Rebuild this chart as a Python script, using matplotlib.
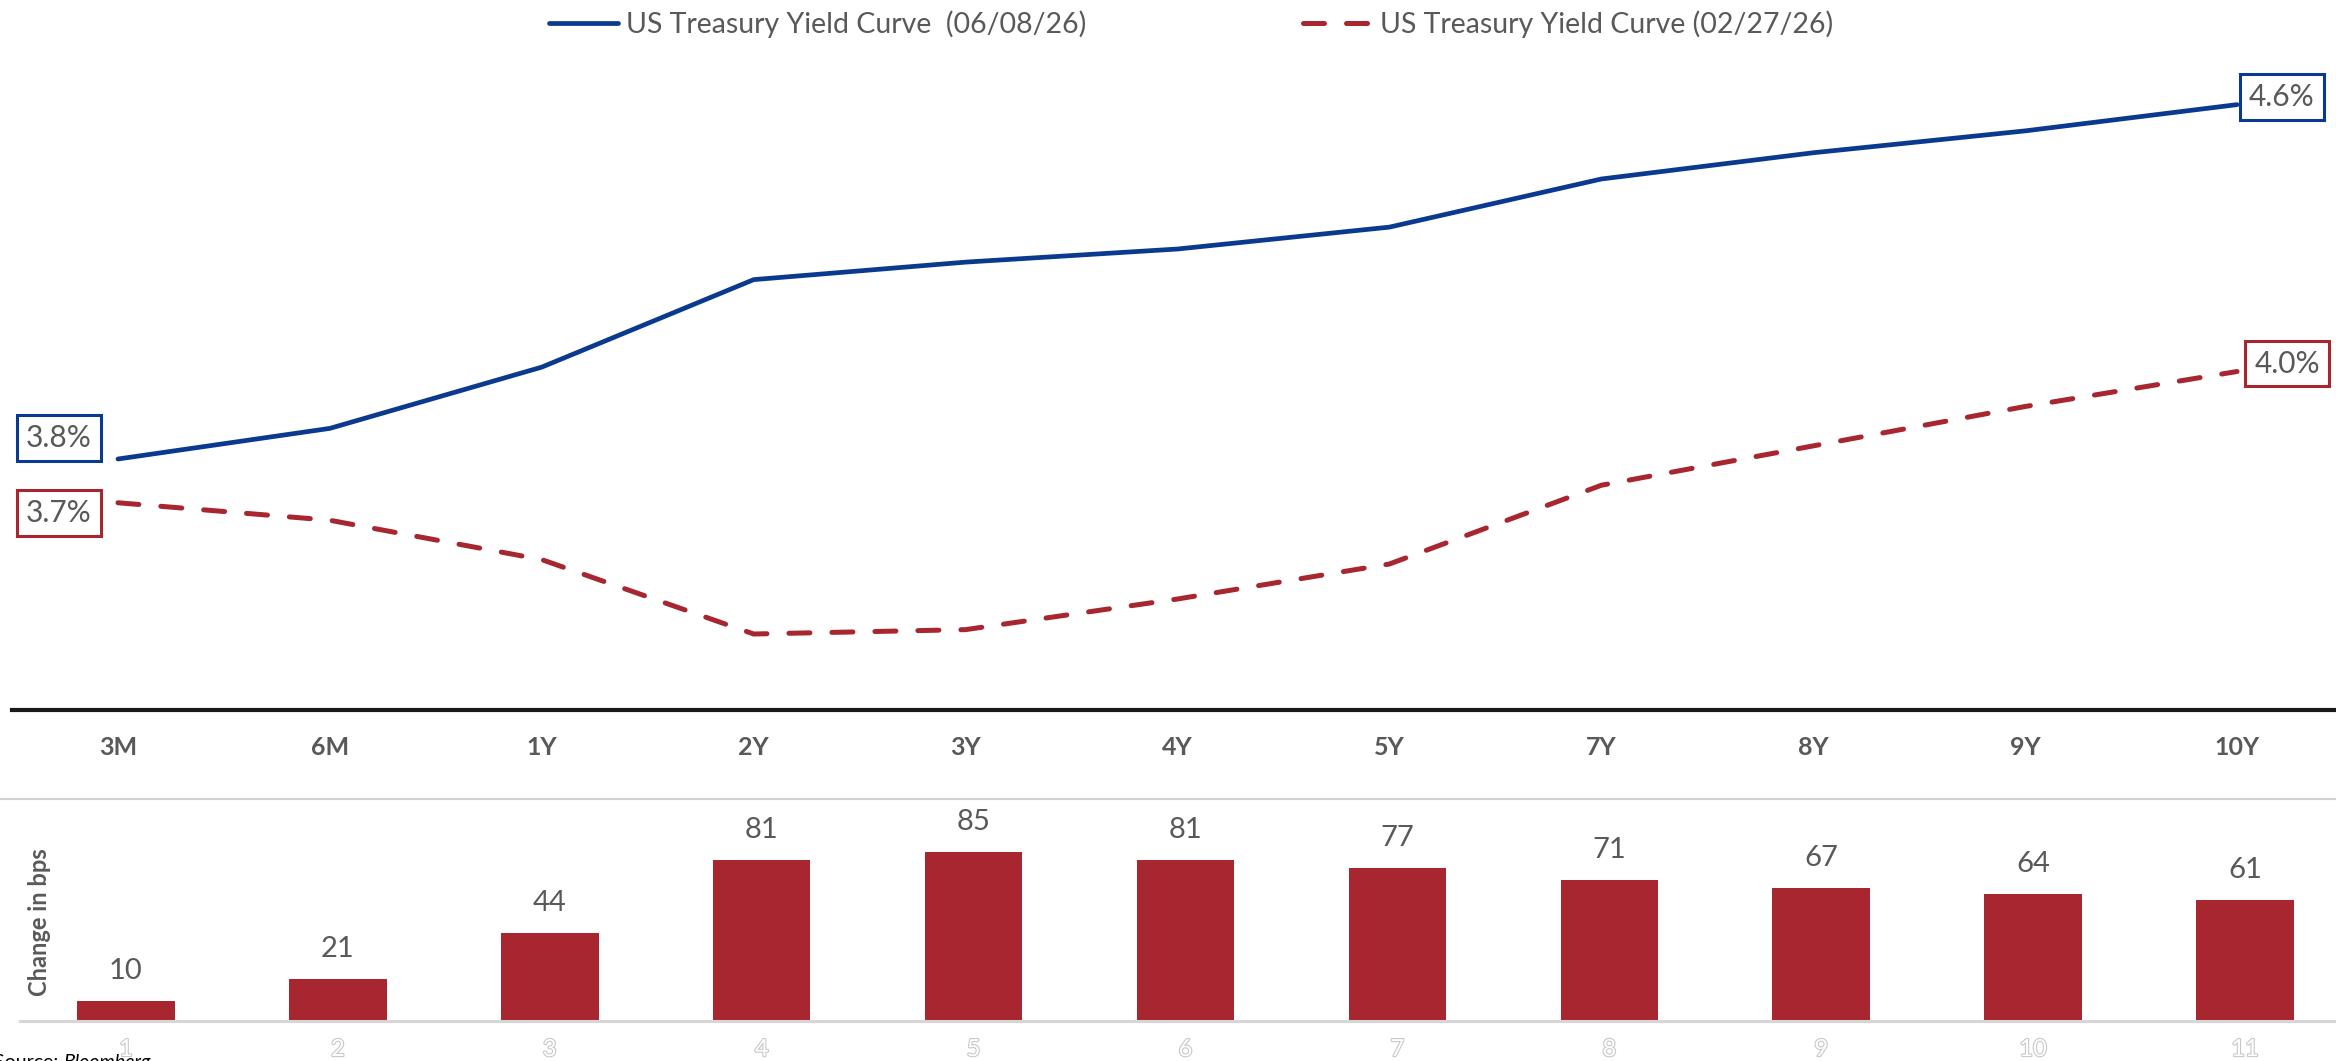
import matplotlib
matplotlib.use("Agg")
import matplotlib.pyplot as plt
import matplotlib.patheffects as pe
from matplotlib.lines import Line2D

# tenors and yields
tenors = ["3M", "6M", "1Y", "2Y", "3Y", "4Y", "5Y", "7Y", "8Y", "9Y", "10Y"]
yield_now = [3.80, 3.87, 4.01, 4.21, 4.25, 4.28, 4.33, 4.44, 4.50, 4.55, 4.61]
yield_prev = [3.70, 3.66, 3.57, 3.40, 3.41, 3.48, 3.56, 3.74, 3.83, 3.92, 4.00]
change_bps = [10, 21, 44, 81, 85, 81, 77, 71, 67, 64, 61]
bar_ticks = ["1", "2", "3", "4", "5", "6", "7", "8", "9", "10", "11"]

label_now = "US Treasury Yield Curve  (06/08/26)"
label_prev = "US Treasury Yield Curve (02/27/26)"

BLUE = "#0a3a8f"
RED = "#a8262f"
GREY_TXT = "#595959"

plt.rcParams["font.family"] = ["Lato", "DejaVu Sans"]

W, H = 2336, 1061
fig = plt.figure(figsize=(W / 100, H / 100), dpi=100)

def box(left, bottom, right, top):
    # pixel box -> figure fraction rect
    return [left / W, 1 - bottom / H, (right - left) / W, (bottom - top) / H]

# ---- top: yield curves
ax = fig.add_axes(box(12, 710, 2343, 60))
x = list(range(len(tenors)))
ln1, = ax.plot(x, yield_now, color=BLUE, lw=3.4, solid_capstyle="round")
ln2, = ax.plot(x, yield_prev, color=RED, lw=3.6, dashes=(4.2, 4.4),
               dash_capstyle="round")
ax.set_xlim(-0.5, 10.5)
ax.set_ylim(3.2263, 4.712)
ax.set_yticks([])
ax.set_xticks(x)
ax.set_xticklabels(tenors, fontsize=18, fontweight="bold", color=GREY_TXT)
ax.tick_params(axis="x", length=0, pad=19)
for s in ["top", "left", "right"]:
    ax.spines[s].set_visible(False)
ax.spines["bottom"].set_color("#1a1a1a")
ax.spines["bottom"].set_linewidth(3)

def tag(i, vals, col, dx, dy):
    ax.annotate(f"{vals[i]:.1f}%", xy=(i, vals[i]), xytext=(dx, dy),
                textcoords="offset pixels", ha="center", va="center",
                fontsize=21.5, color=GREY_TXT,
                bbox=dict(boxstyle="square,pad=0.3", fc="white", ec=col, lw=2.2))

tag(0, yield_now, BLUE, -59, 21)
tag(0, yield_prev, RED, -59, -10)
tag(10, yield_now, BLUE, 45, 8)
tag(10, yield_prev, RED, 50, 8)

fig.legend([ln1, ln2], [label_now, label_prev], loc="center",
           bbox_to_anchor=(1191 / W, 1 - 24 / H), ncol=2, frameon=False,
           fontsize=20.5, labelcolor=GREY_TXT, handlelength=2.4,
           handletextpad=0.3, columnspacing=7.6)

# separator line between panels
fig.add_artist(Line2D([0, 1], [1 - 799 / H, 1 - 799 / H], transform=fig.transFigure,
                      color="#d0d0d0", lw=1.5))

# ---- bottom: change in bps
bx = fig.add_axes(box(20, 1021, 2351, 810))
bars = bx.bar(x, change_bps, width=0.46, color=RED)
bx.set_xlim(-0.5, 10.5)
bx.set_ylim(0, 106)
bx.set_yticks([])
bx.set_xticks(x)
bx.set_xticklabels(bar_ticks, fontsize=17, color="white")
for t in bx.get_xticklabels():
    t.set_path_effects([pe.withStroke(linewidth=1.6, foreground="#c8c8c8")])
bx.tick_params(axis="x", length=0, pad=13)
for s in ["top", "left", "right"]:
    bx.spines[s].set_visible(False)
bx.spines["bottom"].set_color("#d6d6d6")
bx.spines["bottom"].set_linewidth(2.2)
for i, v in enumerate(change_bps):
    bx.annotate(str(v), xy=(i, v), xytext=(0, 30), textcoords="offset pixels",
                ha="center", va="center", fontsize=21, color=GREY_TXT)

fig.text(40 / W, 1 - 922 / H, "Change in bps", rotation=90, ha="center",
         va="center", fontsize=17, fontweight="bold", color=GREY_TXT)

src = fig.text(-6 / W, 1 - 1054 / H, "Source: ", ha="left", va="top",
               fontsize=14, color="black")
bx.annotate("Bloomberg", xy=(1, 1), xycoords=src, ha="left", va="top",
            fontsize=14, fontstyle="italic", color="black",
            annotation_clip=False)

fig.savefig("out.png", dpi=100)
